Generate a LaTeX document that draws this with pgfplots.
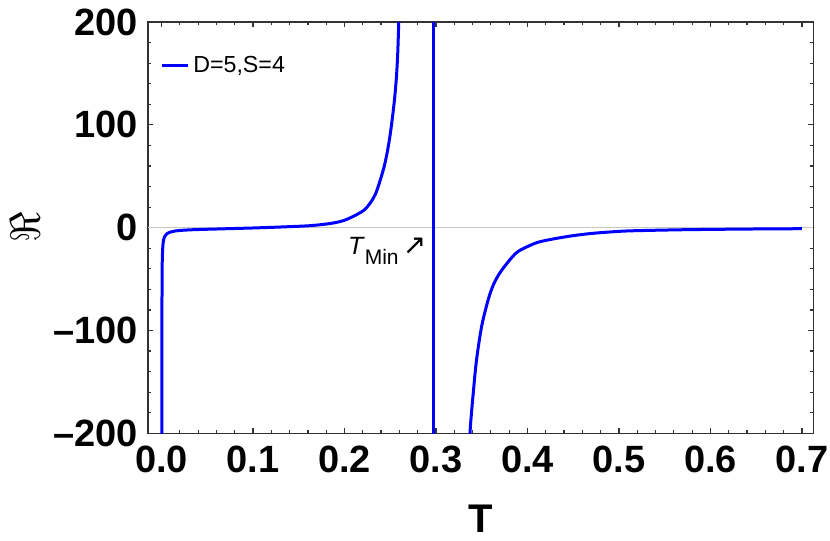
\documentclass[border=0pt]{standalone}
\usepackage{pgfplots}
\pgfplotsset{compat=1.18}
\usepackage{fontspec}
\setmainfont{Liberation Sans}
\newfontfamily\arrowfont{DejaVu Sans}

\begin{document}
\begin{tikzpicture}
\begin{axis}[
    scale only axis,
    width=332.7pt,
    height=205.7pt,
    xmin=-0.0148, xmax=0.7124,
    ymin=-200, ymax=200,
    axis line style={black!80, line width=0.8pt},
    tick style={black!80, line width=0.6pt},
    tick align=inside,
    major tick length=2.6pt,
    minor tick length=1.6pt,
    xtick={0,0.1,0.2,0.3,0.4,0.5,0.6,0.7},
    xticklabels={0.0,0.1,0.2,0.3,0.4,0.5,0.6,0.7},
    minor x tick num=4,
    ytick={-200,-100,0,100,200},
    yticklabels={--200,--100,0,100,200},
    minor y tick num=4,
    xticklabel style={font=\bfseries\fontsize{19}{19}\selectfont, inner sep=0pt, yshift=-6pt},
    yticklabel style={font=\bfseries\fontsize{19}{19}\selectfont, inner sep=0pt, xshift=-5pt},
    xlabel={T},
    xlabel style={font=\bfseries\fontsize{20}{20}\selectfont, at={(axis description cs:0.5,0)}, anchor=center, yshift=-42.5pt},
    ylabel={\scalebox{2.1}{$\Re$}},
    ylabel style={at={(axis description cs:0,0.5)}, anchor=center, yshift=61.5pt},
    legend style={at={(0.018,0.894)}, anchor=west, draw=none, fill=none,
        inner sep=0pt, font=\fontsize{11.6}{13}\selectfont},
    legend image code/.code={\draw[#1] (0pt,0pt) -- (13pt,0pt);},
    legend cell align=left,
]
% zero line
\addplot[gray!45, line width=0.6pt, forget plot] coordinates {(-0.0148,0) (0.7124,0)};

% left branch
\addplot[blue, line width=1.5pt, smooth] coordinates {
(0.0002,-230) (0.0003,-200) (0.0004,-100) (0.0007,-40) (0.0012,-22) (0.002,-13)
(0.0035,-8.5) (0.006,-5.8) (0.01,-4.2) (0.016,-3.1) (0.025,-2.4) (0.04,-1.8)
(0.06,-1.3) (0.08,-0.8) (0.1,-0.3) (0.12,0.3) (0.14,1.0) (0.16,1.8) (0.175,3.0)
(0.188,4.6) (0.2,7.2) (0.2138,12.9) (0.222,17.5) (0.2284,24.3) (0.234,33)
(0.2393,46.9) (0.2435,60) (0.2466,72.8) (0.2495,88) (0.2521,105) (0.2547,125)
(0.2568,147) (0.2582,170) (0.2593,200) (0.2605,235)
};
\addlegendentry{D=5,S=4}

% vertical segment at T_Min
\addplot[blue, line width=1.5pt, forget plot] coordinates {(0.2975,-210) (0.2975,210)};

% right branch
\addplot[blue, line width=1.5pt, smooth, forget plot] coordinates {
(0.3362,-235) (0.3372,-199) (0.3408,-160) (0.3444,-128) (0.35,-95.5) (0.3572,-69.6)
(0.363,-55) (0.37,-43.7) (0.38,-32) (0.388,-24.3) (0.395,-20.5) (0.41,-14.6) (0.425,-11.5)
(0.4465,-8.2) (0.47,-5.6) (0.5,-3.6) (0.52,-2.9) (0.57,-2.0) (0.62,-1.5)
(0.66,-1.2) (0.7,-1.0)
};

\coordinate (tmin) at (axis cs:0.2898,-8.5);
\end{axis}
\node[anchor=north east, inner sep=0pt, font=\fontsize{12.5}{14}\selectfont] at (tmin)
  {\textit{T}\raisebox{-0.4em}{\fontsize{10.5}{12}\selectfont Min}\,{\arrowfont\fontsize{14}{14}\selectfont ↗}};
\pgfresetboundingbox
\path ([shift={(-74pt,-53.35pt)}]current axis.south west) rectangle ([shift={(8.35pt,11pt)}]current axis.north east);
\end{tikzpicture}
\end{document}
